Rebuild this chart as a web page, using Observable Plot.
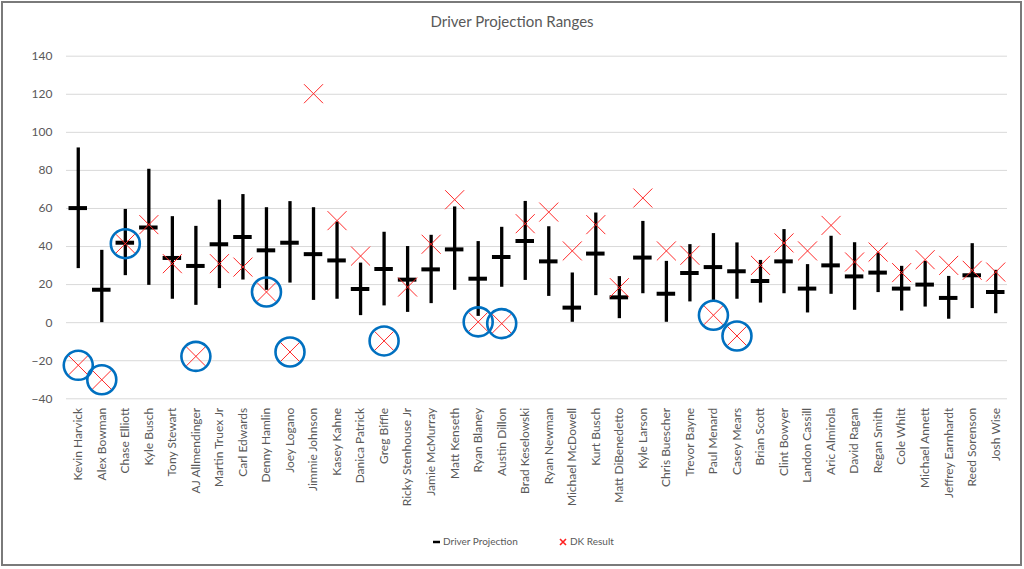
<!DOCTYPE html>
<html><head><meta charset="utf-8">
<script src="https://cdn.jsdelivr.net/npm/d3@7"></script>
<script src="https://cdn.jsdelivr.net/npm/@observablehq/plot@0.6"></script>
<style>
body{margin:0;background:#fff;font-family:Lato,"Open Sans",sans-serif;width:1024px;height:569px;overflow:hidden;position:relative}
#frame{position:absolute;left:1px;top:1px;width:1021px;height:565px;box-sizing:border-box;border:2px solid #7a7a7a;pointer-events:none}
#chart{position:absolute;left:0;top:0}
#title{position:absolute;top:12px;left:0;width:1024px;text-align:center;font-size:15px;color:#595959}
.leg{position:absolute;top:533px;font-size:10px;color:#595959;line-height:16px;white-space:nowrap}
.leg svg{vertical-align:middle;margin-right:3px}
</style>
</head><body>
<div id="chart"></div>
<div id="title">Driver Projection Ranges</div>
<div class="leg" style="left:433px"><svg width="7" height="8"><line x1="0" x2="7" y1="4" y2="4" stroke="#000" stroke-width="2.5"/></svg>Driver Projection</div>
<div class="leg" style="left:559px"><svg width="8" height="8"><path d="M1,1L7,7M1,7L7,1" stroke="#ff2020" stroke-width="1.6"/></svg>DK Result</div>
<div id="frame"></div>
<script>
const drivers = ["Kevin Harvick","Alex Bowman","Chase Elliott","Kyle Busch","Tony Stewart","AJ Allmendinger","Martin Truex Jr","Carl Edwards","Denny Hamlin","Joey Logano","Jimmie Johnson","Kasey Kahne","Danica Patrick","Greg Biffle","Ricky Stenhouse Jr","Jamie McMurray","Matt Kenseth","Ryan Blaney","Austin Dillon","Brad Keselowski","Ryan Newman","Michael McDowell","Kurt Busch","Matt DiBenedetto","Kyle Larson","Chris Buescher","Trevor Bayne","Paul Menard","Casey Mears","Brian Scott","Clint Bowyer","Landon Cassill","Aric Almirola","David Ragan","Regan Smith","Cole Whitt","Michael Annett","Jeffrey Earnhardt","Reed Sorenson","Josh Wise"];
const low  = [28.4,0,24.7,19.6,12.3,9.1,17.9,22.4,17,20.8,11.7,12.3,3.7,8.8,5.4,10,17,3.3,18.6,22.2,13.8,0.2,14.2,2.1,15.2,0.2,10.9,11.7,12.3,10.3,15.2,5.1,14.9,6.5,15.8,6.1,8.2,1.8,7.4,4.7];
const high = [91.8,38,59.5,80.6,55.7,50.6,64.4,67.3,60.4,63.6,60.4,52.9,31.3,47.5,40,45.9,60.8,42.6,50.1,63.7,50.4,26.1,57.6,24.2,53.2,32.2,41,46.8,41.9,32.7,48.9,30.5,45.4,42,36.6,29.6,32.2,24.3,41.5,27.5];
const proj = [60.2,17.3,42,50,34,29.8,41.2,45,38,42,36,32.7,17.7,28.2,22.6,28,38.5,23.1,34.5,42.9,32.2,7.9,36.3,13.3,34.2,15.2,26.1,29.2,27,21.9,32.2,17.9,30.1,24.3,26.3,17.9,20,13,24.9,16.1];
const dk   = [-22.4,-30,41.5,51.5,31,-17.7,31,29.2,16.1,-15.4,120.3,53.6,35,-9.6,18.7,41.2,64.6,0.4,-0.5,52,58.1,37.7,51.5,18.4,65.5,37.7,35.4,3.9,-7,30.1,41.9,37.7,51.1,31.9,37.1,26.3,33.1,30.1,27.5,26.6];
const circled = ["Kevin Harvick","Alex Bowman","Chase Elliott","AJ Allmendinger","Denny Hamlin","Joey Logano","Greg Biffle","Ryan Blaney","Austin Dillon","Paul Menard","Casey Mears"];
const yTicks = [-40,-20,0,20,40,60,80,100,120,140];

const data = drivers.map((d,i)=>({driver:d, low:low[i], high:high[i], proj:proj[i], dk:dk[i]}));
const circ = data.filter(d=>circled.includes(d.driver));

const chart = Plot.plot({
  width: 1021, height: 520,
  marginTop: 55.7, marginBottom: 121.7, marginLeft: 66, marginRight: 14,
  style: {fontFamily: "Lato, 'Open Sans', sans-serif", color: "#595959", background: "transparent", overflow: "visible"},
  x: {type: "band", domain: drivers, padding: 0, round: false, axis: null},
  y: {domain: [-40, 140], axis: null},
  marks: [
    Plot.gridY(yTicks, {stroke: "#d9d9d9", strokeOpacity: 1, strokeWidth: 1}),
    Plot.axisY(yTicks, {tickSize: 0, tickPadding: 14, fontSize: 12, fill: "#595959", label: null}),
    Plot.axisX({tickSize: 0, tickRotate: -90, tickPadding: 9, fontSize: 12, fill: "#595959", label: null}),
    Plot.ruleX(data, {x: "driver", y1: "low", y2: "high", stroke: "#000", strokeWidth: 3.3}),
    Plot.tickY(data, {x: "driver", y: "proj", stroke: "#000", strokeWidth: 4, insetLeft: 2.5, insetRight: 2.5}),
    Plot.dot(data, {x: "driver", y: "dk", symbol: "times", r: 8.7, stroke: "#ff2a2a", strokeWidth: 1}),
    Plot.dot(circ, {x: "driver", y: "dk", r: 14.5, stroke: "#0070c0", strokeWidth: 2.6, fill: "none"})
  ]
});
document.getElementById("chart").appendChild(chart);
</script>
</body></html>
